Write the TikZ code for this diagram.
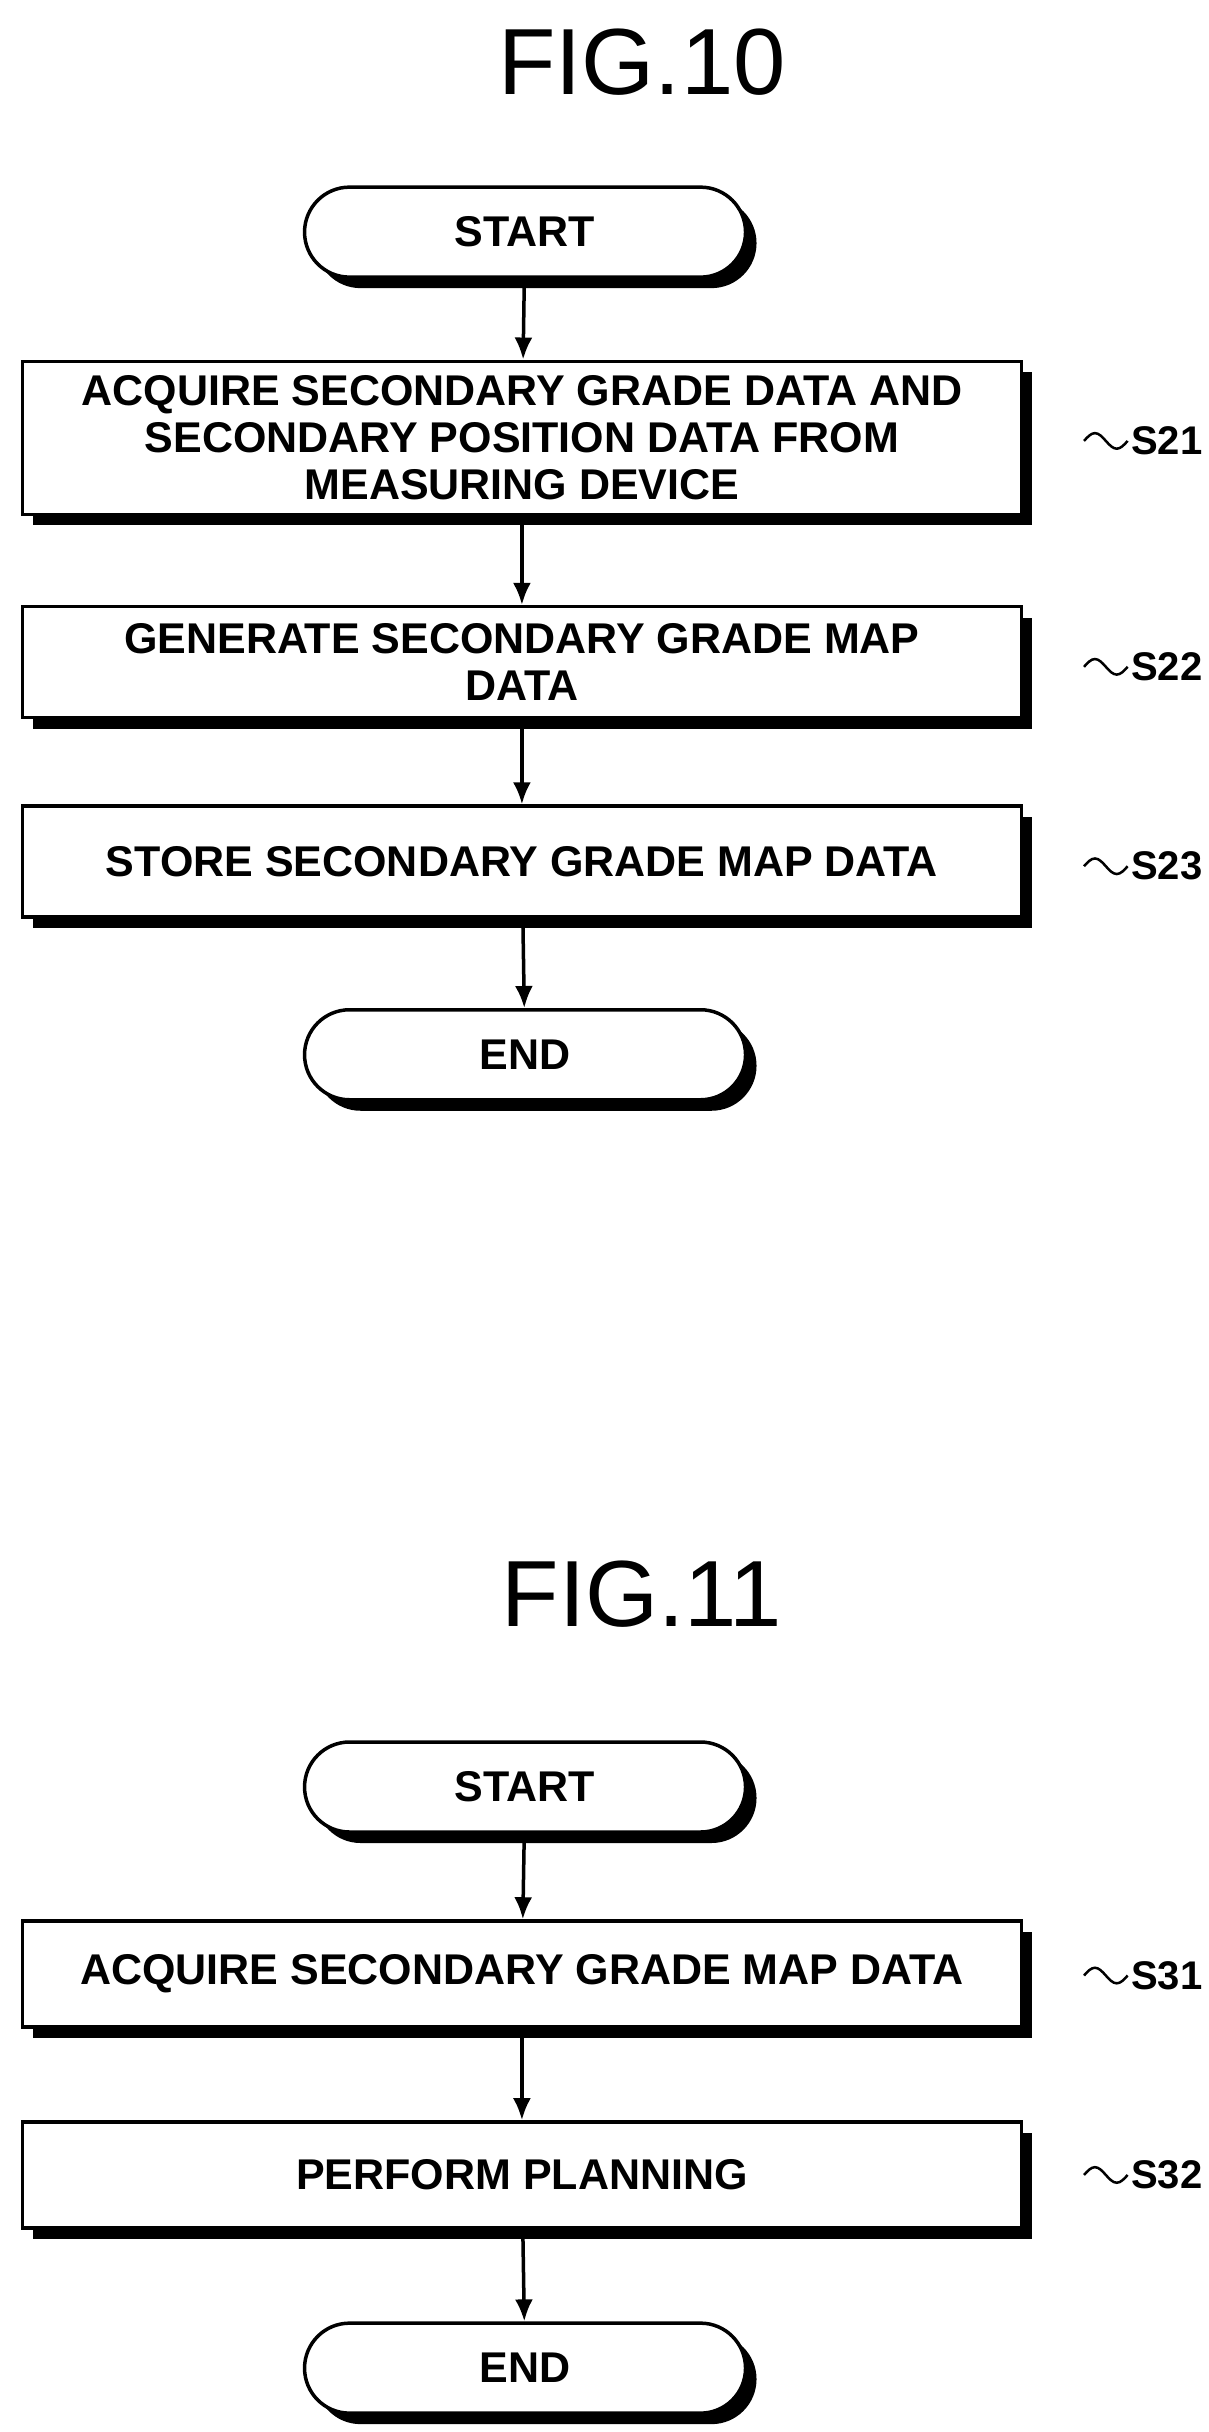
\documentclass[tikz,border=0pt]{standalone}
\usepackage{fontspec}
\setmainfont{Liberation Sans}
\usetikzlibrary{arrows.meta,positioning,shadows}
\tikzset{
  stepbox/.style={draw, line width=3.5pt, fill=white, minimum width=999pt, inner sep=4pt,
    align=center, font=\fontsize{43}{47}\selectfont\bfseries,
    drop shadow={shadow xshift=11pt, shadow yshift=-11pt, opacity=1, fill=black}},
  termbox/.style={stepbox, rounded corners=45pt, minimum width=441pt, minimum height=90pt},
  steplbl/.style={anchor=east, font=\fontsize{40}{46}\selectfont\bfseries},
  figlbl/.style={font=\fontsize{94}{100}\selectfont},
  arr/.style={-{Latex[length=22pt,width=18pt]}, line width=3.5pt},
  wave/.style={line width=2.5pt}
}
\begin{document}
\begin{tikzpicture}[x=1.558pt, y=-1.558pt]
  \useasboundingbox (0,0) rectangle (776,1561);
  % FIG.10
  \node[figlbl] (fig10) at (412,40) {FIG.10};
  \node[termbox] (start1) at (337,149) {START};
  \node[stepbox, minimum height=153pt] (s21) at (335,281) {ACQUIRE SECONDARY GRADE DATA AND\\SECONDARY POSITION DATA FROM\\MEASURING DEVICE};
  \node[stepbox, minimum height=111pt] (s22) at (335,425) {GENERATE SECONDARY GRADE MAP\\DATA};
  \node[stepbox, minimum height=111pt] (s23) at (335,553) {STORE SECONDARY GRADE MAP DATA};
  \node[termbox] (end1) at (337,677) {END};
  \draw[arr] (start1) -- (s21);
  \draw[arr] (s21) -- (s22);
  \draw[arr] (s22) -- (s23);
  \draw[arr] (s23) -- (end1);
  % FIG.11
  \node[figlbl] (fig11) at (412,1023) {FIG.11};
  \node[termbox] (start2) at (337,1147) {START};
  \node[stepbox, minimum height=106pt] (s31) at (335,1267) {ACQUIRE SECONDARY GRADE MAP DATA};
  \node[stepbox, minimum height=106pt] (s32) at (335,1396) {PERFORM PLANNING};
  \node[termbox] (end2) at (337,1520) {END};
  \draw[arr] (start2) -- (s31);
  \draw[arr] (s31) -- (s32);
  \draw[arr] (s32) -- (end2);
  % step labels
  \foreach \nm/\yy in {21/283, 22/428, 23/556, 31/1268, 32/1396}{
    \node[steplbl] (l\nm) at (774,\yy) {S\nm};
    \draw[wave] (l\nm.west) sin ++(-7,5) cos ++(-7,-5) sin ++(-7,-5) cos ++(-7,5);
  }
\end{tikzpicture}
\end{document}
